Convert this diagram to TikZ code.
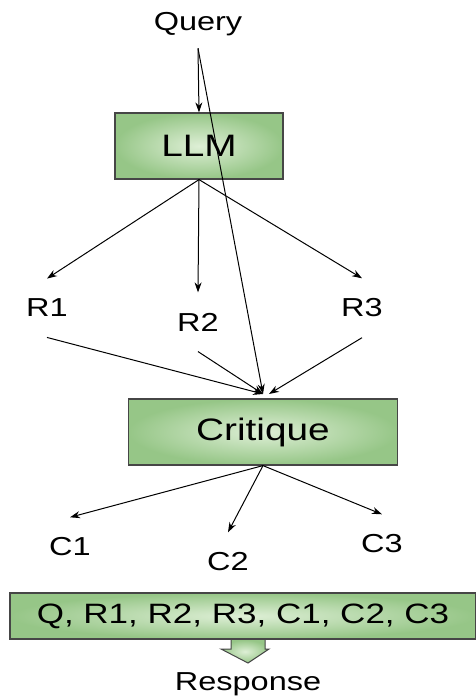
\documentclass[tikz,border=0pt]{standalone}
\usepackage{fontspec}
\setmainfont{Liberation Sans}[FakeStretch=1.25]
\usepackage{xcolor}
\usetikzlibrary{arrows.meta,positioning}
\definecolor{boxin}{RGB}{222,239,214}
\definecolor{boxout}{RGB}{150,198,135}
\definecolor{boxline}{RGB}{70,70,70}
\tikzset{stage/.style={rectangle,draw=boxline,line width=1.2pt,inner color=boxin,outer color=boxout,font=\fontsize{31}{36}\selectfont},
         lab/.style={inner xsep=2pt,inner ysep=20pt,font=\fontsize{26}{30}\selectfont}}

\begin{document}
\begin{tikzpicture}[x=1pt,y=-1pt,>={Stealth[length=10pt,width=7pt]},line width=1pt]
    \useasboundingbox (0,0) rectangle (475,700);

    \node[lab,inner ysep=12pt] (query) at (198,24) {Query};
    \node[stage,minimum width=168pt,minimum height=66pt] (llm) at (199,146) {LLM};
    \node[lab] (r1) at (47,308) {R1};
    \node[lab] (r2) at (198,322) {R2};
    \node[lab] (r3) at (362,308) {R3};
    \node[stage,minimum width=269pt,minimum height=66pt] (crit) at (263,432) {Critique};
    \coordinate (cin) at (263,394);
    \node[lab] (c1) at (70,547) {C1};
    \node[lab] (c2) at (228,562) {C2};
    \node[lab] (c3) at (382,544) {C3};
    \node[stage,minimum width=466pt,minimum height=46pt,font=\fontsize{28}{32}\selectfont] (ctx) at (243,616) {Q, R1, R2, R3, C1, C2, C3};
    \node[lab,inner ysep=4pt] (resp) at (248,684) {Response};

    % block arrow under the context box
    \draw [draw=boxline,line width=1pt,inner color=boxin,outer color=boxout]
        (231,640) -- (231,649) -- (221,649) -- (248,663) -- (269,649) -- (265,649) -- (265,640);

    \draw [->] (query.south) to [] (llm.north);
    \draw [->] (llm.south) to [] (r1.north);
    \draw [->] (llm.south) to [] (r2.north);
    \draw [->] (llm.south) to [] (r3.north);
    \draw [->] (query.south) to [] (cin);
    \draw [->] (r1.south) to [] (cin);
    \draw [->] (r2.south) to [] (cin);
    \draw [->] (r3.south) to [] ([xshift=6pt]cin);
    \draw [->] (crit.south) to [] (c1.north);
    \draw [->] (crit.south) to [] (c2.north);
    \draw [->] (crit.south) to [] (c3.north);
\end{tikzpicture}
\end{document}
